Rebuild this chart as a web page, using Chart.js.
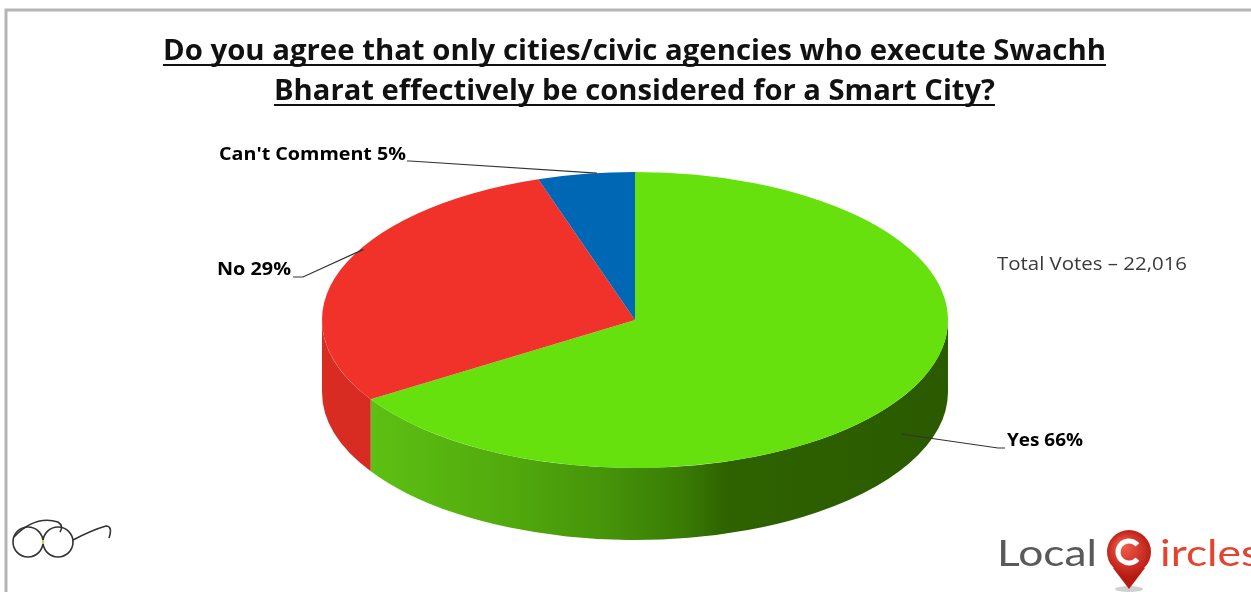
<!DOCTYPE html>
<html>
<head>
<meta charset="utf-8">
<title>Swachh Bharat / Smart City poll</title>
<script src="https://cdn.jsdelivr.net/npm/chart.js@4.4.1/dist/chart.umd.min.js"></script>
<style>
  html, body { margin: 0; padding: 0; background: #fff; }
  #wrap { width: 1251px; height: 592px; }
</style>
</head>
<body>
<div id="wrap"><canvas id="poll" width="1251" height="592"></canvas></div>
<script>
// Данные опроса
const categories = ["Yes", "No", "Can't Comment"];
const votes = [66, 29, 5];
const titleLines = [
  "Do you agree that only cities/civic agencies who execute Swachh",
  "Bharat effectively be considered for a Smart City?"
];
const totalVotesText = "Total Votes \u2013 22,016";

// Цвета: верхняя грань и боковая стенка
const topColors = ["#66e10e", "#f0322b", "#0067b4"];
const wallStops = [
  [[0, "#61c716"], [0.29, "#52ab0d"], [0.45, "#46940a"], [0.57, "#3a7d05"], [0.65, "#2e6200"], [1, "#2b5a00"]],
  [[0, "#d92c23"], [1, "#b8221b"]],
  [[0, "#00528f"], [1, "#003f70"]]
];

// Раскладка подписей (положение текста, смещение точки выноски, излом)
const labelLayout = [
  { x: 1007, y: 446, w: 76, onWall: true, rf: 1.0, da: 3, elbow: [[998, 448], [1005, 448]] },
  { x: 217, y: 275, w: 74, onWall: false, rf: 0.99, da: 9, elbow: [[303, 277], [293, 277]] },
  { x: 219, y: 160, w: 187, onWall: false, rf: 1.0, da: 2, elbow: [[410, 161], [407, 161]] }
];

const FONT = "'Open Sans', 'Liberation Sans', sans-serif";

// Текст, растянутый/сжатый до заданной ширины
function fitText(ctx, text, x, y, width) {
  const w = ctx.measureText(text).width;
  ctx.save();
  ctx.translate(x, y);
  ctx.scale(width / w, 1);
  ctx.fillText(text, 0, 0);
  ctx.restore();
}

function arcProps(arc) {
  return arc.getProps(["x", "y", "startAngle", "endAngle", "outerRadius"], true);
}

// Псевдо-3D: стенка под пирогом + сжатие верхней грани в эллипс
const pie3d = {
  id: "pie3d",
  beforeDatasetsDraw(chart, args, opts) {
    const ctx = chart.ctx;
    const arcs = chart.getDatasetMeta(0).data;
    if (!arcs.length) return;
    const k = opts.tilt;
    const depth = opts.depth;

    arcs.forEach((arc, i) => {
      const p = arcProps(arc);
      const ry = p.outerRadius * k;
      const grad = ctx.createLinearGradient(p.x - p.outerRadius, 0, p.x + p.outerRadius, 0);
      wallStops[i].forEach((s) => grad.addColorStop(s[0], s[1]));
      // видимая передняя часть: углы 0..PI (с учётом периодов)
      [-2 * Math.PI, 0, 2 * Math.PI].forEach((shift) => {
        const a1 = Math.max(p.startAngle, shift);
        const a2 = Math.min(p.endAngle, shift + Math.PI);
        if (a2 <= a1) return;
        ctx.beginPath();
        ctx.ellipse(p.x, p.y, p.outerRadius, ry, 0, a1, a2);
        ctx.ellipse(p.x, p.y + depth, p.outerRadius, ry, 0, a2, a1, true);
        ctx.closePath();
        ctx.fillStyle = grad;
        ctx.fill();
      });
    });

    const c = arcProps(arcs[0]);
    ctx.save();
    ctx.translate(c.x, c.y);
    ctx.scale(1, k);
    ctx.translate(-c.x, -c.y);
  },
  afterDatasetsDraw(chart) {
    chart.ctx.restore();
  }
};

// Заголовок, подписи, рамка и логотипы
const overlay = {
  id: "overlay",
  afterDraw(chart) {
    const ctx = chart.ctx;
    const k = chart.options.plugins.pie3d.tilt;
    const depth = chart.options.plugins.pie3d.depth;
    ctx.save();

    // рамка слайда
    ctx.strokeStyle = "#b5b5b5";
    ctx.lineWidth = 3;
    ctx.beginPath();
    ctx.moveTo(6, 592);
    ctx.lineTo(6, 10);
    ctx.lineTo(1251, 10);
    ctx.stroke();

    // заголовок с подчёркиванием
    ctx.fillStyle = "#111";
    ctx.strokeStyle = "#111";
    ctx.font = "bold 28px " + FONT;
    ctx.textBaseline = "alphabetic";
    ctx.textAlign = "left";
    const titleBoxes = [[163, 60, 943], [274, 100, 721]];
    titleLines.forEach((line, i) => {
      const [x, y, w] = titleBoxes[i];
      fitText(ctx, line, x, y, w);
      ctx.lineWidth = 2;
      ctx.beginPath();
      ctx.moveTo(x, y + 5);
      ctx.lineTo(x + w, y + 5);
      ctx.stroke();
    });

    // подписи секторов с выносками
    const arcs = chart.getDatasetMeta(0).data;
    ctx.font = "bold 17px " + FONT;
    arcs.forEach((arc, i) => {
      const p = arcProps(arc);
      const lay = labelLayout[i];
      const mid = (p.startAngle + p.endAngle) / 2 + lay.da * Math.PI / 180;
      const r = p.outerRadius * lay.rf;
      const ax = p.x + r * Math.cos(mid);
      let ay = p.y + r * k * Math.sin(mid);
      if (lay.onWall) ay += depth * 0.5;
      ctx.strokeStyle = "#333";
      ctx.lineWidth = 1.2;
      ctx.beginPath();
      ctx.moveTo(ax, ay);
      lay.elbow.forEach((pt) => ctx.lineTo(pt[0], pt[1]));
      ctx.stroke();
      ctx.fillStyle = "#000";
      fitText(ctx, categories[i] + " " + votes[i] + "%", lay.x, lay.y, lay.w);
    });

    // всего голосов
    ctx.font = "19px " + FONT;
    ctx.fillStyle = "#3a3a3a";
    fitText(ctx, totalVotesText, 997, 270, 190);

    // логотип Swachh Bharat (очки)
    ctx.strokeStyle = "#333";
    ctx.lineWidth = 1.6;
    ctx.beginPath();
    ctx.arc(28, 542, 15, 0, Math.PI * 2);
    ctx.stroke();
    ctx.beginPath();
    ctx.arc(58, 542, 15, 0, Math.PI * 2);
    ctx.stroke();
    ctx.beginPath();
    ctx.moveTo(14, 537);
    ctx.quadraticCurveTo(35, 515, 58, 522);
    ctx.quadraticCurveTo(64, 526, 60, 532);
    ctx.stroke();
    ctx.beginPath();
    ctx.moveTo(73, 540);
    ctx.quadraticCurveTo(92, 530, 106, 526);
    ctx.quadraticCurveTo(113, 526, 109, 538);
    ctx.stroke();
    ctx.strokeStyle = "#b9d34a";
    ctx.lineWidth = 2;
    ctx.beginPath();
    ctx.moveTo(43, 540);
    ctx.lineTo(43, 544);
    ctx.stroke();

    // логотип LocalCircles
    ctx.font = "36px Lato, " + FONT;
    const localW = ctx.measureText("Local").width;
    const sx = 100 / localW;
    ctx.fillStyle = "#5a5a5a";
    fitText(ctx, "Local", 997, 566, 100);
    ctx.fillStyle = "#e4432e";
    fitText(ctx, "ircles", 1160, 566, ctx.measureText("ircles").width * sx);
    ctx.fillStyle = "#d0d0d0";
    ctx.beginPath();
    ctx.ellipse(1129, 589, 14, 3, 0, 0, Math.PI * 2);
    ctx.fill();
    const pin = ctx.createRadialGradient(1122, 545, 3, 1129, 553, 24);
    pin.addColorStop(0, "#f05a4a");
    pin.addColorStop(1, "#b81a12");
    ctx.fillStyle = pin;
    ctx.beginPath();
    ctx.moveTo(1113, 568);
    ctx.lineTo(1129, 589);
    ctx.lineTo(1145, 568);
    ctx.closePath();
    ctx.fill();
    ctx.beginPath();
    ctx.arc(1129, 552, 22, 0, Math.PI * 2);
    ctx.fill();
    ctx.strokeStyle = "#fff";
    ctx.lineWidth = 5;
    ctx.beginPath();
    ctx.arc(1129, 552, 11, 0.7, Math.PI * 2 - 0.7);
    ctx.stroke();

    ctx.restore();
  }
};

new Chart(document.getElementById("poll"), {
  type: "pie",
  data: {
    labels: categories,
    datasets: [{
      data: votes,
      backgroundColor: topColors,
      borderWidth: 0,
      radius: 313,
      clip: false,
      hoverOffset: 0
    }]
  },
  options: {
    responsive: false,
    animation: false,
    events: [],
    layout: { padding: { left: 19, right: 0, top: 48, bottom: 0 } },
    plugins: {
      legend: { display: false },
      tooltip: { enabled: false },
      title: { display: false },
      pie3d: { tilt: 148 / 313, depth: 72 }
    }
  },
  plugins: [pie3d, overlay]
});
</script>
</body>
</html>
